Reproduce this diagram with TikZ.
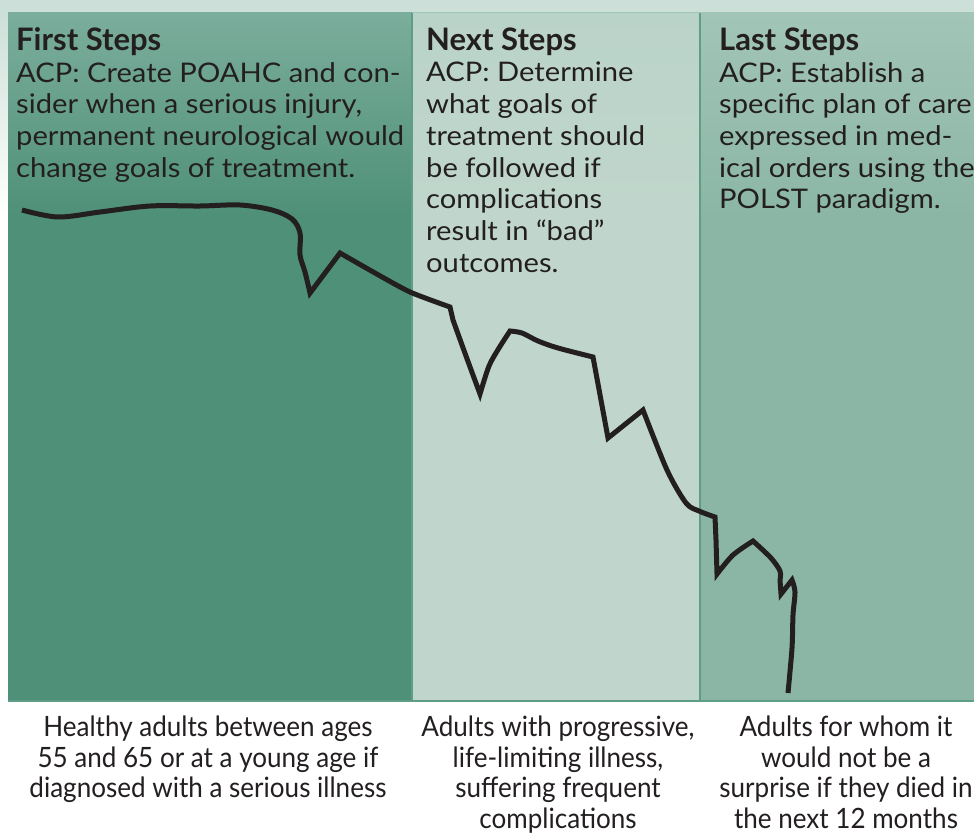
\documentclass[tikz,border=0pt]{standalone}
\usepackage{fontspec}
\setmainfont{Lato}
\newfontfamily\bodyfont[FakeStretch=1.08]{Lato}
\newfontfamily\condfont[FakeStretch=0.93]{Lato}
\definecolor{inktext}{HTML}{231F20}
\definecolor{stripbg}{HTML}{CCDFD8}
\definecolor{darkpanel}{HTML}{4F9078}
\definecolor{darkpaneltop}{HTML}{7BAE9C}
\definecolor{lightpanel}{HTML}{C0D6CC}
\definecolor{lightpaneltop}{HTML}{BAD3C8}
\definecolor{midpanel}{HTML}{8BB6A6}
\definecolor{midpaneltop}{HTML}{A2C5B7}
\definecolor{panelrule}{HTML}{5E9E86}
\begin{document}
\begin{tikzpicture}[x=1pt,y=-1pt,
  heading/.style={anchor=base west,inner sep=0pt,text=inktext,
    font=\fontsize{31}{34}\selectfont\bfseries},
  bodytext/.style={anchor=north west,inner sep=0pt,text=inktext,align=left,
    font=\bodyfont\fontsize{27}{31.7}\selectfont},
  caption/.style={anchor=north,inner sep=0pt,text=inktext,align=center,
    font=\condfont\fontsize{28}{30.5}\selectfont},
  trajectory/.style={line width=5pt,draw=inktext,line join=miter,miter limit=6}]
\useasboundingbox (0,0) rectangle (974,833);
\clip (0,0) rectangle (974,833);

% background: pale strip along the top, fading margin on the left
\fill[white] (0,0) rectangle (974,833);
\fill[stripbg] (0,0) rectangle (974,12);
\shade[top color=stripbg,bottom color=white] (0,12) rectangle (8,215);

% three stage panels
\fill[darkpanel] (8,12) rectangle (412,701);
\shade[top color=darkpaneltop,bottom color=darkpanel] (8,12) rectangle (412,215);
\fill[lightpanel] (412,12) rectangle (700,701);
\shade[top color=lightpaneltop,bottom color=lightpanel] (412,12) rectangle (700,215);
\fill[midpanel] (700,12) rectangle (974,701);
\shade[top color=midpaneltop,bottom color=midpanel] (700,12) rectangle (974,215);

% panel rules
\draw[panelrule,line width=2pt] (412,12) -- (412,701);
\draw[panelrule,line width=2pt] (700,12) -- (700,701);
\draw[panelrule,line width=2pt] (8,701) -- (974,701);
\draw[panelrule!60,line width=1pt] (412,12.5) -- (974,12.5);

% headings and advance-care-planning texts
\node[heading] (h1) at (16,50) {First Steps};
\node[bodytext] (b1) at (16,62) {ACP: Create POAHC and con-\\sider when a serious injury,\\permanent neurological would\\change goals of treatment.};
\node[heading] (h2) at (426,50) {Next Steps};
\node[bodytext] (b2) at (426,62) {ACP: Determine\\what goals of\\treatment should\\be followed if\\complications\\result in “bad”\\outcomes.};
\node[heading] (h3) at (719,50) {Last Steps};
\node[bodytext] (b3) at (719,62) {ACP: Establish a\\specific plan of care\\expressed in med-\\ical orders using the\\POLST paradigm.};

% declining health trajectory
\draw[trajectory]
  plot[smooth,tension=0.55] coordinates {(22,210) (58,217) (100,212) (150,206) (200,206) (240,205) (272,210) (292,219) (300,233) (300,255) (305,272) (310,293)}
  -- (340,253)
  -- plot[smooth,tension=0.4] coordinates {(340,253) (375,273) (410,292) (450,307)}
  -- plot[smooth,tension=0.4] coordinates {(453,320) (466,356) (480,394)}
  -- plot[smooth,tension=0.5] coordinates {(480,394) (489,366) (499,348) (510,331)}
  -- plot[smooth,tension=0.5] coordinates {(510,331) (522,333) (538,341) (558,348) (593,357)}
  -- (608,438) -- (643,410)
  -- plot[smooth,tension=0.5] coordinates {(643,410) (667,470) (686,503) (699,511) (715,517)}
  -- (716,540) -- (717,574)
  -- plot[smooth,tension=0.5] coordinates {(717,574) (733,555) (753,541)}
  -- plot[smooth,tension=0.5] coordinates {(753,541) (771,558) (780,571) (780,580)}
  -- (781,594) -- (792,580)
  -- plot[smooth,tension=0.5] coordinates {(792,580) (795,592) (793,615) (792,648) (788,693)};

% who each stage applies to
\node[caption] (c1) at (208,716) {Healthy adults between ages\\55 and 65 or at a young age if\\diagnosed with a serious illness};
\node[caption] (c2) at (558,716) {Adults with progressive,\\life-limiting illness,\\suffering frequent\\complications};
\node[caption] (c3) at (846,716) {Adults for whom it\\would not be a\\surprise if they died in\\the next 12 months};
\end{tikzpicture}
\end{document}
